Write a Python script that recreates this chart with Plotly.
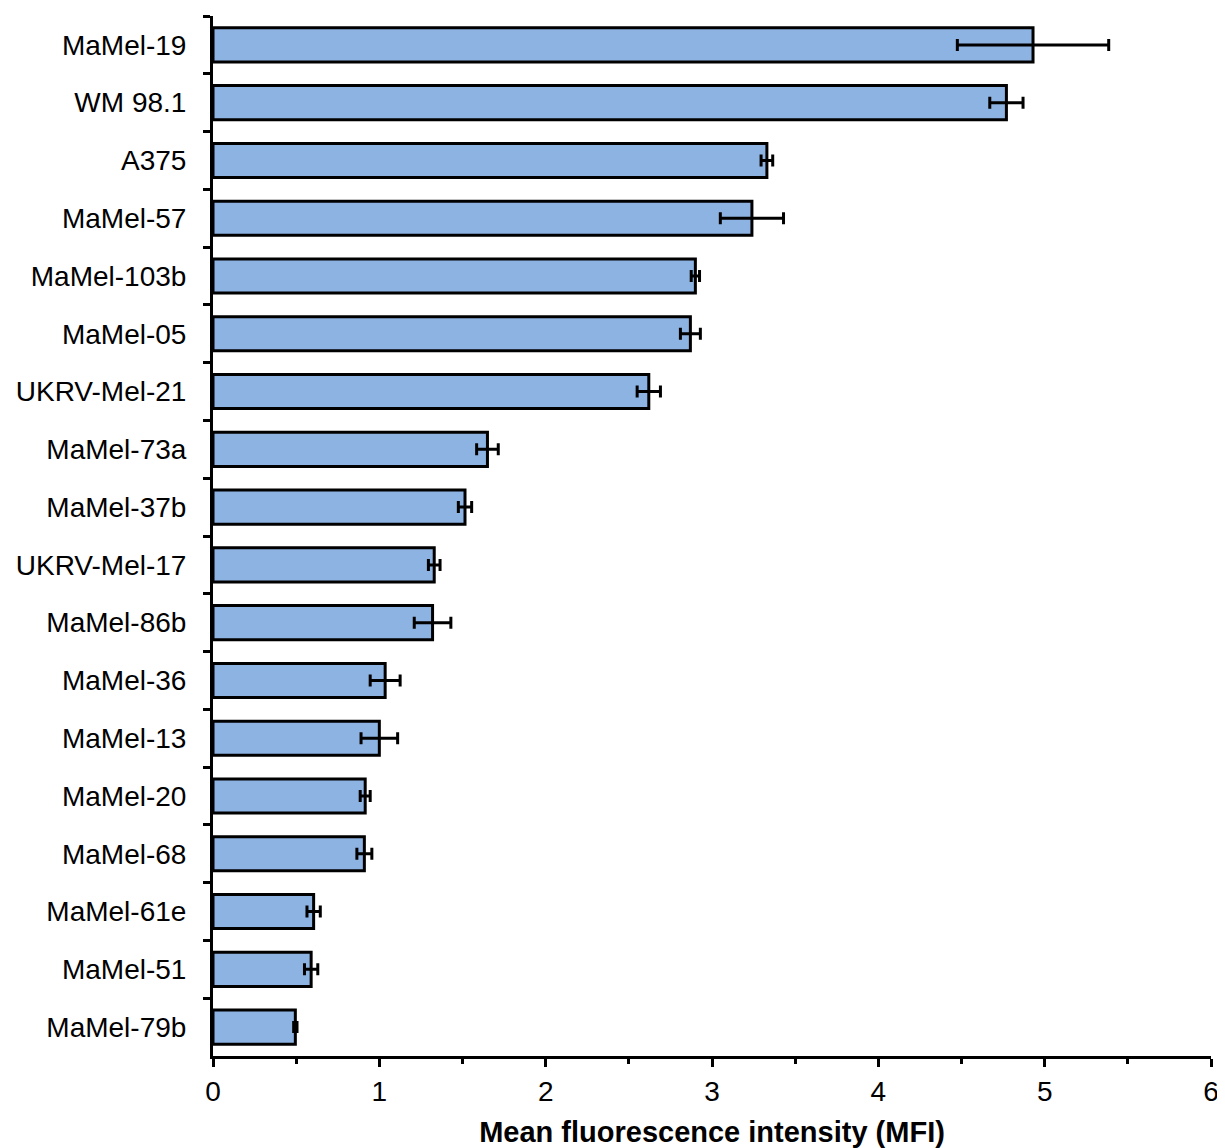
import plotly.graph_objects as go

cell_lines = ["MaMel-19", "WM 98.1", "A375", "MaMel-57", "MaMel-103b", "MaMel-05",
              "UKRV-Mel-21", "MaMel-73a", "MaMel-37b", "UKRV-Mel-17", "MaMel-86b",
              "MaMel-36", "MaMel-13", "MaMel-20", "MaMel-68", "MaMel-61e", "MaMel-51",
              "MaMel-79b"]
mfi = [4.93, 4.77, 3.33, 3.24, 2.90, 2.87, 2.62, 1.65, 1.515, 1.33, 1.32,
       1.035, 1.00, 0.915, 0.91, 0.605, 0.59, 0.495]
mfi_err = [0.455, 0.10, 0.035, 0.19, 0.025, 0.06, 0.07, 0.065, 0.04, 0.035, 0.11,
           0.09, 0.11, 0.03, 0.045, 0.04, 0.04, 0.01]
x_ticks = [0, 1, 2, 3, 4, 5, 6]

fig = go.Figure(go.Bar(
    y=cell_lines, x=mfi, orientation="h", width=0.59,
    marker=dict(color="#8DB3E2", line=dict(color="black", width=3)),
    error_x=dict(type="data", array=mfi_err, visible=True, color="black",
                 thickness=3, width=6),
))

font = "Liberation Sans, Arial, sans-serif"
fig.update_layout(
    width=1225, height=1148,
    margin=dict(l=200, r=22, t=8, b=100),
    plot_bgcolor="white", paper_bgcolor="white",
    font=dict(family=font, size=28, color="black"),
    showlegend=False,
)
fig.update_xaxes(
    range=[0, 6], tickvals=x_ticks, ticktext=[str(v) for v in x_ticks],
    showgrid=False, zeroline=False, showline=True, linecolor="black", linewidth=3,
    ticks="outside", ticklen=8, tickwidth=3, tickcolor="black",
    minor=dict(dtick=0.5, ticks="outside", ticklen=5, tickwidth=3, tickcolor="black"),
    tickfont=dict(size=28),
    title=dict(text="<b>Mean fluorescence intensity (MFI)</b>", font=dict(size=29), standoff=17),
)
fig.update_yaxes(
    categoryorder="array", categoryarray=cell_lines, autorange="reversed",
    range=[17.5, -0.5],
    showgrid=False, zeroline=False, showline=True, linecolor="black", linewidth=3,
    ticks="outside", tickson="boundaries", ticklen=7, tickwidth=3, tickcolor="black",
    tickfont=dict(size=28), ticklabelstandoff=18,
)
fig.write_html("out.html")
